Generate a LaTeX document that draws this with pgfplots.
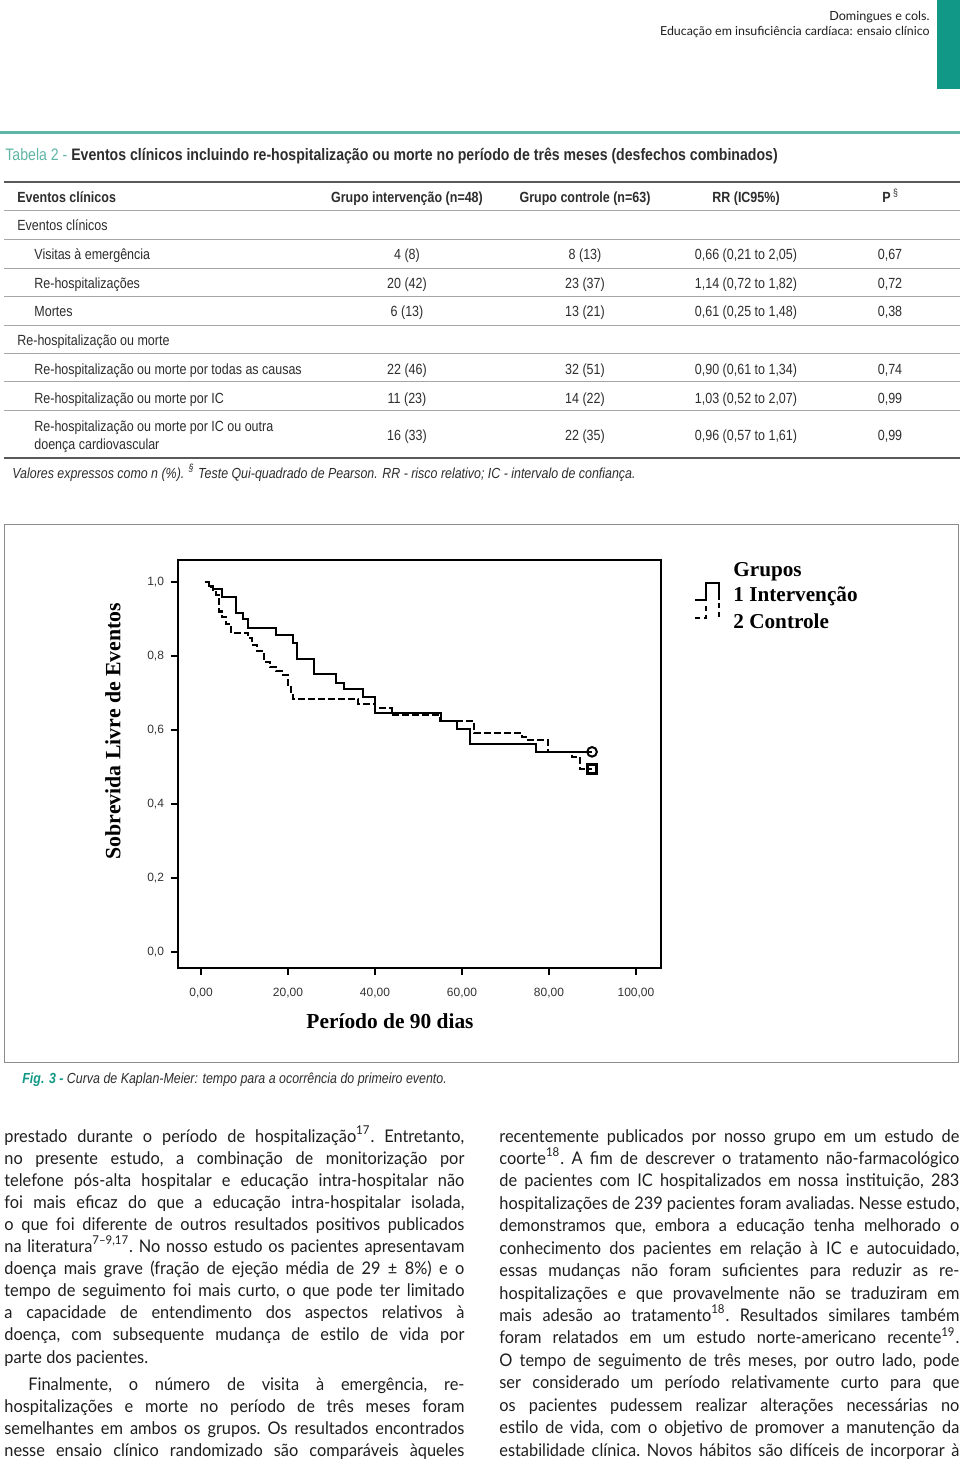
\documentclass[border=0pt]{standalone}
\usepackage{fontspec}
\usepackage{pgfplots}
\pgfplotsset{compat=1.18}
\setmainfont{Liberation Sans}
\newfontfamily\nar[FakeStretch=0.85]{Liberation Sans}
\newfontfamily\bod[FakeStretch=0.94]{Lato}
\newfontfamily\hdr{Lato}
\newfontfamily\tms{Liberation Serif}
\definecolor{teal1}{RGB}{18,152,134}
\definecolor{teal2}{RGB}{95,182,166}
\definecolor{txt}{RGB}{30,30,30}
\definecolor{tab}{RGB}{45,45,45}
\newcommand{\fs}[1]{\fontsize{#1pt}{#1pt}\selectfont}
\newcommand{\jl}[3]{\node[anchor=base west,inner sep=0pt,text=txt] at (#1,#2) {\frenchspacing\bod\fs{8.7}\makebox[230pt][s]{#3}};}
\newcommand{\tc}[3]{\node[anchor=base,inner sep=0pt,text=tab] at (#1,#2) {\nar\fs{7.35}#3};}
\newcommand{\tl}[3]{\node[anchor=base west,inner sep=0pt,text=tab] at (#1,#2) {\nar\fs{7.35}#3};}
\begin{document}
\begin{tikzpicture}
\fill[white] (0,0) rectangle (480pt,-733pt);
\useasboundingbox (0,0) rectangle (480pt,-733pt);
\begin{scope}[x=0.5pt,y=-0.5pt]
% header
\fill[teal1] (937,0) rectangle (960,89);
\node[anchor=base east,inner sep=0pt,text=txt] at (930,21) {\hdr\fs{6.3}Domingues e cols.};
\node[anchor=base east,inner sep=0pt,text=txt] at (930,36) {\hdr\fs{6.2}Educação em insuficiência cardíaca: ensaio clínico};
% table
\draw[teal2,line width=1.5pt] (0,133) -- (960,133);
\node[anchor=base west,inner sep=0pt] at (5,161) {\nar\fs{8.3}\textcolor{teal2}{Tabela 2 - }\textbf{\textcolor{tab}{Eventos clínicos incluindo re-hospitalização ou morte no período de três meses (desfechos combinados)}}};
\draw[black!65,line width=1.2pt] (4,182) -- (960,182);
\tl{17}{203}{\textbf{Eventos clínicos}}
\tc{407}{203}{\textbf{Grupo intervenção (n=48)}}
\tc{585}{203}{\textbf{Grupo controle (n=63)}}
\tc{746}{203}{\textbf{RR (IC95\%)}}
\tl{882}{203}{\textbf{P}\,\textsuperscript{§}}
\foreach \yy in {211,240,268.3,296.7,325,353.3,381.7,410} {\draw[black!35,line width=0.5pt] (4,\yy) -- (960,\yy);}
\tl{17}{231}{Eventos clínicos}
\tl{34}{259}{Visitas à emergência}
\tc{407}{259}{4 (8)}\tc{585}{259}{8 (13)}\tc{746}{259}{0,66 (0,21 to 2,05)}\tc{890}{259}{0,67}
\tl{34}{288}{Re-hospitalizações}
\tc{407}{288}{20 (42)}\tc{585}{288}{23 (37)}\tc{746}{288}{1,14 (0,72 to 1,82)}\tc{890}{288}{0,72}
\tl{34}{316}{Mortes}
\tc{407}{316}{6 (13)}\tc{585}{316}{13 (21)}\tc{746}{316}{0,61 (0,25 to 1,48)}\tc{890}{316}{0,38}
\tl{17}{345}{Re-hospitalização ou morte}
\tl{34}{374}{Re-hospitalização ou morte por todas as causas}
\tc{407}{374}{22 (46)}\tc{585}{374}{32 (51)}\tc{746}{374}{0,90 (0,61 to 1,34)}\tc{890}{374}{0,74}
\tl{34}{403}{Re-hospitalização ou morte por IC}
\tc{407}{403}{11 (23)}\tc{585}{403}{14 (22)}\tc{746}{403}{1,03 (0,52 to 2,07)}\tc{890}{403}{0,99}
\tl{34}{431}{Re-hospitalização ou morte por IC ou outra}
\tl{34}{449}{doença cardiovascular}
\tc{407}{440}{16 (33)}\tc{585}{440}{22 (35)}\tc{746}{440}{0,96 (0,57 to 1,61)}\tc{890}{440}{0,99}
\draw[black!65,line width=1.2pt] (4,458) -- (960,458);
\node[anchor=base west,inner sep=0pt,text=tab] at (12,478) {\nar\fs{7.3}\itshape Valores expressos como n (\%). \textsuperscript{§} Teste Qui-quadrado de Pearson. RR - risco relativo; IC - intervalo de confiança.};
% figure frame
\draw[black!45,line width=0.5pt] (4,524) rectangle (958,1062);
\node[rotate=90,inner sep=0pt] at (113,731) {\tms\bfseries\fs{10.9}Sobrevida Livre de Eventos};
\node[inner sep=0pt] at (390,1021) {\tms\bfseries\fs{10.7}Período de 90 dias};
\node[anchor=west,inner sep=0pt] at (733,572) {\tms\bfseries\fs{10.6}Grupos};
\node[anchor=west,inner sep=0pt] at (733,596) {\tms\bfseries\fs{10.6}1 Intervenção};
\node[anchor=west,inner sep=0pt] at (733,621) {\tms\bfseries\fs{10.6}2 Controle};
\draw[line width=1.1pt] (695,600) -- (706,600) -- (706,583) -- (719,583) -- (719,600);
\draw[line width=1.1pt,dash pattern=on 2.5pt off 2pt] (695,618) -- (706,618) -- (706,603);
\draw[line width=1.1pt,dash pattern=on 2.5pt off 2pt] (719,603) -- (719,618);
\node[anchor=base west,inner sep=0pt] at (22,1083) {\nar\fs{7.3}\itshape\textcolor{teal1}{\bfseries Fig. 3 -} \textcolor{tab}{Curva de Kaplan-Meier: tempo para a ocorrência do primeiro evento.}};
% body text left
\jl{4}{1142}{prestado durante o período de hospitalização\textsuperscript{17}. Entretanto,}
\jl{4}{1164.1}{no presente estudo, a combinação de monitorização por}
\jl{4}{1186.2}{telefone pós-alta hospitalar e educação intra-hospitalar não}
\jl{4}{1208.3}{foi mais eficaz do que a educação intra-hospitalar isolada,}
\jl{4}{1230.4}{o que foi diferente de outros resultados positivos publicados}
\jl{4}{1252.5}{na literatura\textsuperscript{7–9,17}. No nosso estudo os pacientes apresentavam}
\jl{4}{1274.6}{doença mais grave (fração de ejeção média de 29 ± 8\%) e o}
\jl{4}{1296.7}{tempo de seguimento foi mais curto, o que pode ter limitado}
\jl{4}{1318.8}{a capacidade de entendimento dos aspectos relativos à}
\jl{4}{1340.9}{doença, com subsequente mudança de estilo de vida por}
\node[anchor=base west,inner sep=0pt,text=txt] at (4,1363) {\bod\fs{8.7}parte dos pacientes.};
\node[anchor=base west,inner sep=0pt,text=txt] at (28,1390) {\frenchspacing\bod\fs{8.7}\makebox[218pt][s]{Finalmente, o número de visita à emergência, re-}};
\jl{4}{1412}{hospitalizações e morte no período de três meses foram}
\jl{4}{1434}{semelhantes em ambos os grupos. Os resultados encontrados}
\jl{4}{1456}{nesse ensaio clínico randomizado são comparáveis àqueles}
% body text right
\jl{499}{1142}{recentemente publicados por nosso grupo em um estudo de}
\jl{499}{1164.4}{coorte\textsuperscript{18}. A fim de descrever o tratamento não-farmacológico}
\jl{499}{1186.9}{de pacientes com IC hospitalizados em nossa instituição, 283}
\jl{499}{1209.3}{hospitalizações de 239 pacientes foram avaliadas. Nesse estudo,}
\jl{499}{1231.7}{demonstramos que, embora a educação tenha melhorado o}
\jl{499}{1254.2}{conhecimento dos pacientes em relação à IC e autocuidado,}
\jl{499}{1276.6}{essas mudanças não foram suficientes para reduzir as re-}
\jl{499}{1299}{hospitalizações e que provavelmente não se traduziram em}
\jl{499}{1321.4}{mais adesão ao tratamento\textsuperscript{18}. Resultados similares também}
\jl{499}{1343.9}{foram relatados em um estudo norte-americano recente\textsuperscript{19}.}
\jl{499}{1366.3}{O tempo de seguimento de três meses, por outro lado, pode}
\jl{499}{1388.7}{ser considerado um período relativamente curto para que}
\jl{499}{1411.2}{os pacientes pudessem realizar alterações necessárias no}
\jl{499}{1433.6}{estilo de vida, com o objetivo de promover a manutenção da}
\jl{499}{1456}{estabilidade clínica. Novos hábitos são difíceis de incorporar à}
\end{scope}
% Kaplan-Meier axis
\begin{axis}[
  at={(89pt,-484pt)}, anchor=south west,
  scale only axis, width=241.5pt, height=204pt,
  xmin=-5.29, xmax=105.75, ymin=-0.0432, ymax=1.0595,
  axis line style={line width=1pt, black},
  xtick={0,20,40,60,80,100},
  xticklabels={{0,00},{20,00},{40,00},{60,00},{80,00},{100,00}},
  ytick={0,0.2,0.4,0.6,0.8,1},
  yticklabels={{0,0},{0,2},{0,4},{0,6},{0,8},{1,0}},
  tick align=outside, tick pos=left, major tick length=3.5pt,
  tick style={line width=1pt, black},
  tick label style={font=\fs{6}, text=black!80},
  xticklabel style={yshift=-3pt},
  clip=false,
]
\addplot[const plot, line width=1.2pt, black] coordinates {
(0.9,1.0) (1.8,0.989) (2.8,0.981) (4.8,0.959) (8.0,0.916) (9.7,0.900) (10.8,0.876)
(17.2,0.857) (21.1,0.835) (22.1,0.792) (26.0,0.751) (31.0,0.727) (32.9,0.711)
(37.2,0.689) (40.0,0.646) (55.2,0.624) (58.9,0.603) (61.8,0.562) (77.0,0.541) (89.9,0.541)};
\addplot[const plot, line width=1.2pt, black, dash pattern=on 3.5pt off 1.5pt] coordinates {
(0.9,1.0) (1.8,0.986) (2.8,0.976) (3.4,0.965) (4.1,0.920) (4.8,0.905) (5.7,0.886)
(6.9,0.862) (10.8,0.849) (11.7,0.830) (12.9,0.814) (14.5,0.784) (15.9,0.770)
(17.2,0.759) (18.6,0.749) (20.0,0.716) (20.7,0.700) (21.1,0.684) (36.1,0.670)
(40.0,0.659) (43.9,0.641) (54.9,0.624) (62.8,0.592) (73.8,0.581) (75.2,0.573)
(79.8,0.541) (85.3,0.527) (87.1,0.495) (89.9,0.495)};
\addplot[only marks, mark=o, mark size=2.4pt, line width=1pt, black, fill=white] coordinates {(89.9,0.541)};
\addplot[only marks, mark=square, mark size=2.3pt, line width=1.3pt, black] coordinates {(89.9,0.495)};
\end{axis}
\end{tikzpicture}
\end{document}
